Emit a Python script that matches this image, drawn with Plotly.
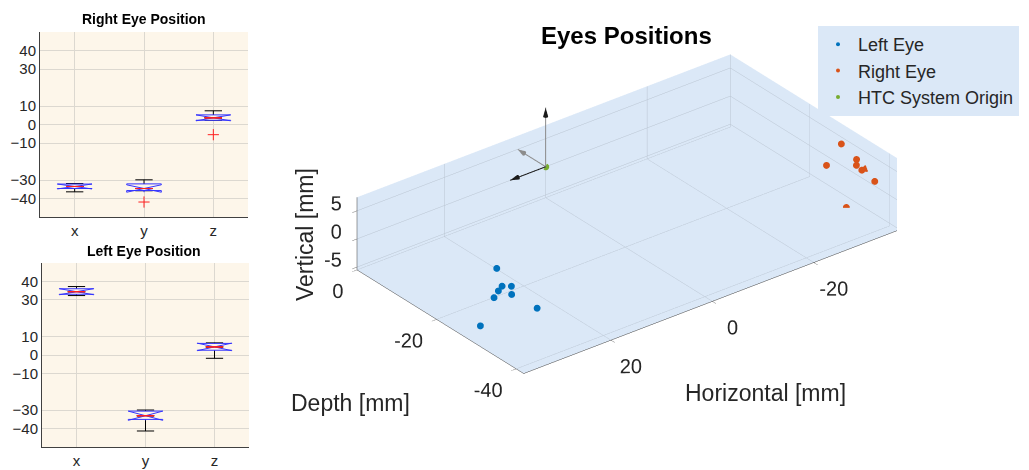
import numpy as np
import plotly.graph_objects as go

# Eye positions in the HTC frame (mm): x horizontal, y depth, z vertical
left_x = [33.2, 34.7, 35.6, 32.8, 36.4, 32.3, 37.2, 34.1]
left_y = [-30.0, -35.6, -34.4, -29.9, -33.4, -32.6, -31.0, -41.3]
left_z = [6.6, 6.4, 6.2, 2.4, 4.0, 2.8, -1.8, 4.8]

right_x = [-32.4, -33.8, -33.2, -36.4, -31.9, -34.4, -32.0, -34.8]
right_y = [-33.0, -35.0, -35.8, -34.2, -29.9, -35.6, -41.9, -31.2]
right_z = [7.4, 4.0, 5.6, 2.2, 2.4, 3.2, 4.8, -5.5]

origin = [0.0, 0.0, 0.0]

# HTC frame arrows drawn at the origin (mm) with shaft / head colours
frame_dx = [7.0, 0.0, 0.0]
frame_dy = [0.0, 7.0, 0.0]
frame_dz = [0.0, 0.0, 10.5]
frame_shaft = ["#1a1a1a", "#8c8c8c", "#8c8c8c"]
frame_head = ["#1a1a1a", "#8c8c8c", "#1a1a1a"]

coord_names = ["x", "y", "z"]
box_ticks = [-40, -30, -10, 0, 10, 30, 40]
scene_ticks_h = [-20, 0, 20]
scene_ticks_d = [-40, -20, 0]
scene_ticks_v = [-5, 0, 5]

FONT = "Liberation Sans, Arial, Helvetica, sans-serif"
TXT = "#262626"
BOX_BG = "#fdf6ea"
PANE = "#dbe8f7"
GRID = "#b9c4d1"
C_LEFT, C_RIGHT, C_ORIGIN = "#0072BD", "#D95319", "#77AC30"
ZOOM = 2.27
SCENE_DOMAIN = dict(x=[0.30, 0.918], y=[0.10, 0.99])
TICK_FONT = 20


def box_stats(values):
    v = np.sort(np.asarray(values, float))
    n = v.size
    half = n // 2
    q1 = float(np.median(v[:half]))
    q3 = float(np.median(v[n - half:]))
    med = float(np.median(v))
    iqr = q3 - q1
    lo_lim, hi_lim = q1 - 1.5 * iqr, q3 + 1.5 * iqr
    inside = v[(v >= lo_lim) & (v <= hi_lim)]
    out = v[(v < lo_lim) | (v > hi_lim)]
    return dict(q1=q1, med=med, q3=q3, lo=float(inside.min()), hi=float(inside.max()),
                notch=1.57 * iqr / np.sqrt(n), out=out.tolist())


fig = go.Figure()


def add_boxes(cols, xa, ya):
    st = [box_stats(c) for c in cols]
    pos = [1, 2, 3]
    common = dict(x=pos, xaxis=xa, yaxis=ya, showlegend=False, hoverinfo="skip", boxpoints=False)
    # whiskers with caps
    fig.add_trace(go.Box(q1=[s["med"] for s in st], median=[s["med"] for s in st],
                         q3=[s["med"] for s in st], lowerfence=[s["lo"] for s in st],
                         upperfence=[s["hi"] for s in st], width=0.25, whiskerwidth=1,
                         line=dict(color="black", width=1), fillcolor="rgba(0,0,0,0)", **common))
    # notched box
    fig.add_trace(go.Box(q1=[s["q1"] for s in st], median=[s["med"] for s in st],
                         q3=[s["q3"] for s in st], lowerfence=[s["q1"] for s in st],
                         upperfence=[s["q3"] for s in st], notched=True,
                         notchspan=[s["notch"] for s in st], notchwidth=0.5, width=0.5,
                         whiskerwidth=0, line=dict(color="#3333ff", width=1),
                         fillcolor=BOX_BG, **common))
    # median
    fig.add_trace(go.Box(q1=[s["med"] for s in st], median=[s["med"] for s in st],
                         q3=[s["med"] for s in st], lowerfence=[s["med"] for s in st],
                         upperfence=[s["med"] for s in st], width=0.25, whiskerwidth=0,
                         line=dict(color="#ff2020", width=1), fillcolor="rgba(0,0,0,0)", **common))
    ox, oy = [], []
    for p, s in zip(pos, st):
        ox += [p] * len(s["out"])
        oy += s["out"]
    fig.add_trace(go.Scatter(x=ox, y=oy, xaxis=xa, yaxis=ya, mode="markers", showlegend=False,
                             hoverinfo="skip",
                             marker=dict(symbol="cross-thin-open", size=8, color="#ff2020",
                                         line=dict(color="#ff2020", width=1))))


add_boxes([right_x, right_y, right_z], "x", "y")
add_boxes([left_x, left_y, left_z], "x2", "y2")

# 3D scatter of both eyes and the HTC origin
fig.add_trace(go.Scatter3d(x=left_x, y=left_y, z=left_z, mode="markers", name="Left Eye",
                           marker=dict(size=4, color=C_LEFT, line=dict(width=0))))
fig.add_trace(go.Scatter3d(x=right_x, y=right_y, z=right_z, mode="markers", name="Right Eye",
                           marker=dict(size=4, color=C_RIGHT, line=dict(width=0))))
fig.add_trace(go.Scatter3d(x=[origin[0]], y=[origin[1]], z=[origin[2]], mode="markers",
                           name="HTC System Origin",
                           marker=dict(size=4, color=C_ORIGIN, line=dict(width=0))))

# axis limits fitted tightly to the plotted points
all_x = left_x + right_x + [origin[0]]
all_y = left_y + right_y + [origin[1]]
all_z = left_z + right_z + [origin[2]]
rx = [max(all_x), min(all_x)]          # horizontal axis runs reversed
ry = [min(all_y), max(all_y)]
rz = [min(all_z), max(all_z)]
spans = np.array([rx[0] - rx[1], ry[1] - ry[0], rz[1] - rz[0]])
k = ZOOM / spans.max()                  # scene units per mm, equal on all axes
ar = spans * k

eye_dir = np.array([-0.539, -0.687, 0.488])
eye = eye_dir / np.linalg.norm(eye_dir) * 2.0

# tick label anchors just outside the box edges (mm)
n_h, n_d, n_v = len(scene_ticks_h), len(scene_ticks_d), len(scene_ticks_v)
lab_h = dict(x=scene_ticks_h, y=[ry[0] - 5.0] * n_h, z=[rz[0] - 2.4] * n_h)
lab_d = dict(x=[rx[0] - 1.1] * n_d, y=scene_ticks_d, z=[rz[0] - 4.1] * n_d)
lab_v = dict(x=[rx[0] - 1.95] * n_v, y=[ry[1] + 1.5] * n_v, z=scene_ticks_v)

# frame arrows and tick labels live in an overlay scene with the same scale,
# so they may leave the axes box without being clipped
tips_x = [origin[0] + d for d in frame_dx]
tips_y = [origin[1] + d for d in frame_dy]
tips_z = [origin[2] + d for d in frame_dz]
ox2 = tips_x + lab_h["x"] + lab_d["x"] + lab_v["x"]
oy2 = tips_y + lab_h["y"] + lab_d["y"] + lab_v["y"]
oz2 = tips_z + lab_h["z"] + lab_d["z"] + lab_v["z"]
rx2 = [max(rx[0], max(ox2) + 1), min(rx[1], min(ox2) - 1)]
ry2 = [min(ry[0], min(oy2) - 1), max(ry[1], max(oy2) + 1)]
rz2 = [min(rz[0], min(oz2) - 1), max(rz[1], max(oz2) + 1)]
spans2 = np.array([rx2[0] - rx2[1], ry2[1] - ry2[0], rz2[1] - rz2[0]])
ar2 = spans2 * k
c1 = np.array([np.mean(rx), np.mean(ry), np.mean(rz)])
c2 = np.array([np.mean(rx2), np.mean(ry2), np.mean(rz2)])
shift = (c1 - c2) * k * np.array([-1.0, 1.0, 1.0])
eye2 = shift + eye

for tx, ty, tz, cs, ch in zip(tips_x, tips_y, tips_z, frame_shaft, frame_head):
    fig.add_trace(go.Scatter3d(x=[origin[0], tx], y=[origin[1], ty], z=[origin[2], tz],
                               mode="lines", line=dict(color=cs, width=2), showlegend=False,
                               hoverinfo="skip", scene="scene2"))
    vec = np.array([tx - origin[0], ty - origin[1], tz - origin[2]])
    vec = vec / np.linalg.norm(vec)
    fig.add_trace(go.Cone(x=[tx], y=[ty], z=[tz], u=[vec[0]], v=[vec[1]], w=[vec[2]],
                          anchor="tip", sizemode="absolute", sizeref=1.6, scene="scene2",
                          colorscale=[[0, ch], [1, ch]], showscale=False, hoverinfo="skip",
                          lighting=dict(ambient=1, diffuse=0, specular=0, fresnel=0)))

for lab, ticks, pos in [(lab_h, scene_ticks_h, "middle center"),
                        (lab_d, scene_ticks_d, "middle left"),
                        (lab_v, scene_ticks_v, "middle left")]:
    fig.add_trace(go.Scatter3d(x=lab["x"], y=lab["y"], z=lab["z"], mode="text",
                               text=[str(t) for t in ticks], textposition=pos,
                               textfont=dict(family=FONT, size=TICK_FONT, color=TXT),
                               showlegend=False, hoverinfo="skip", scene="scene2"))


def scene_axis(rng, ticks):
    return dict(range=rng, tickvals=ticks, title=dict(text=""), showbackground=True,
                backgroundcolor=PANE, gridcolor=GRID, gridwidth=1,
                showline=True, linecolor="#404040", linewidth=1, zeroline=False,
                ticks="outside", ticklen=6, tickcolor="#707070", showticklabels=False,
                showspikes=False)


def hidden_axis(rng):
    return dict(range=rng, visible=False, showbackground=False, showgrid=False,
                zeroline=False, showspikes=False, showticklabels=False, title=dict(text=""))


axis_font = dict(family=FONT, size=15, color=TXT)


def box_xaxis(domain, anchor):
    return dict(domain=domain, anchor=anchor, range=[0.5, 3.5], tickvals=[1, 2, 3],
                ticktext=coord_names, showgrid=True, gridcolor="#dcd8d0", zeroline=False,
                showline=True, linecolor="#404040", tickfont=axis_font, ticks="", fixedrange=True)


def box_yaxis(domain, anchor):
    return dict(domain=domain, anchor=anchor, range=[-50, 50], tickvals=box_ticks,
                showgrid=True, gridcolor="#dcd8d0", zeroline=False, showline=True,
                linecolor="#404040", tickfont=axis_font, ticks="", fixedrange=True)


def note(text, x, y, size, color=TXT, angle=0):
    return dict(text=text, x=x / W, y=1 - y / H, xref="paper", yref="paper", showarrow=False,
                xanchor="center", yanchor="middle", textangle=angle,
                font=dict(family=FONT, size=size, color=color))


W, H = 1029, 470
fig.update_layout(
    width=W, height=H, margin=dict(l=0, r=0, t=0, b=0),
    paper_bgcolor="white", plot_bgcolor=BOX_BG, boxmode="overlay",
    font=dict(family=FONT, color=TXT),
    xaxis=box_xaxis([40 / W, 248 / W], "y"),
    yaxis=box_yaxis([1 - 217 / H, 1 - 32 / H], "x"),
    xaxis2=box_xaxis([42 / W, 249 / W], "y2"),
    yaxis2=box_yaxis([1 - 447 / H, 1 - 263 / H], "x2"),
    scene=dict(
        domain=SCENE_DOMAIN,
        xaxis=scene_axis(rx, scene_ticks_h),
        yaxis=scene_axis(ry, scene_ticks_d),
        zaxis=scene_axis(rz, scene_ticks_v),
        aspectmode="manual",
        aspectratio=dict(x=ar[0], y=ar[1], z=ar[2]),
        camera=dict(eye=dict(x=eye[0], y=eye[1], z=eye[2]), up=dict(x=0, y=0, z=1),
                    center=dict(x=0, y=0, z=0), projection=dict(type="orthographic")),
        bgcolor="white",
    ),
    scene2=dict(
        domain=SCENE_DOMAIN,
        xaxis=hidden_axis(rx2), yaxis=hidden_axis(ry2), zaxis=hidden_axis(rz2),
        aspectmode="manual",
        aspectratio=dict(x=ar2[0], y=ar2[1], z=ar2[2]),
        camera=dict(eye=dict(x=eye2[0], y=eye2[1], z=eye2[2]), up=dict(x=0, y=0, z=1),
                    center=dict(x=shift[0], y=shift[1], z=shift[2]),
                    projection=dict(type="orthographic")),
        bgcolor="rgba(0,0,0,0)",
    ),
    legend=dict(x=818 / W, y=1 - 26 / H, xanchor="left", yanchor="top", bgcolor=PANE,
                font=dict(family=FONT, size=18, color=TXT), itemsizing="trace",
                tracegroupgap=0),
    annotations=[
        note("<b>Right Eye Position</b>", 144, 19, 14, "black"),
        note("<b>Left Eye Position</b>", 144, 251, 14, "black"),
        note("<b>Eyes Positions</b>", 626, 35, 24, "black"),
        note("Vertical [mm]", 305, 235, 23, angle=-90),
        note("Depth [mm]", 350, 403, 23),
        note("Horizontal [mm]", 765, 393, 23),
    ],
)

fig.write_html("out.html", config=dict(displayModeBar=False))
